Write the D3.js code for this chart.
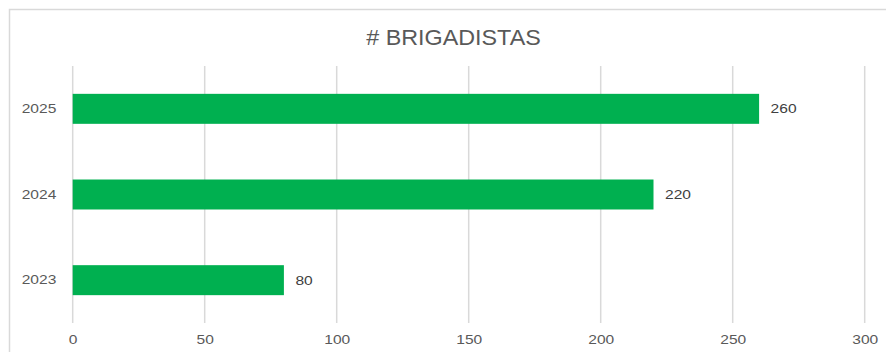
<!DOCTYPE html>
<html>
<head>
<meta charset="utf-8">
<script src="https://cdn.jsdelivr.net/npm/d3@7"></script>
<style>
  html, body { margin: 0; padding: 0; background: #fff; }
  svg { display: block; font-family: "Liberation Sans", Arial, sans-serif; }
</style>
</head>
<body>
<svg id="chart" width="886" height="352"></svg>
<script>
// Brigadistas per year
const years = ["2025", "2024", "2023"];
const brigadistas = [260, 220, 80];
const xTicks = [0, 50, 100, 150, 200, 250, 300];
const title = "# BRIGADISTAS";

const svg = d3.select("#chart");
const W = 886, H = 352;
const margin = { left: 72.7, right: 21.3, top: 66, bottom: 29 };

// widen glyphs slightly, keeping the anchor point
function widen(sel, factor) {
  sel.each(function () {
    const len = this.getComputedTextLength();
    d3.select(this)
      .attr("textLength", len * factor)
      .attr("lengthAdjust", "spacingAndGlyphs");
  });
}

// outer frame of the chart area
svg.append("rect")
  .attr("x", 9.5).attr("y", 9.5)
  .attr("width", 900).attr("height", 400)
  .attr("fill", "#fff")
  .attr("stroke", "#d9d9d9").attr("stroke-width", 1.5);

const x = d3.scaleLinear().domain([0, 300]).range([margin.left, W - margin.right]);
const y = d3.scaleBand().domain(years).range([margin.top, H - margin.bottom]).paddingInner(0.65).paddingOuter(0.325);

// vertical gridlines
svg.append("g")
  .selectAll("line")
  .data(xTicks)
  .join("line")
  .attr("x1", d => x(d)).attr("x2", d => x(d))
  .attr("y1", margin.top).attr("y2", H - margin.bottom)
  .attr("stroke", "#d9d9d9").attr("stroke-width", 1.5);

// x tick labels
const xAxis = d3.axisBottom(x).tickValues(xTicks).tickSize(0).tickPadding(0);
const gx = svg.append("g")
  .attr("transform", `translate(0,${H - 8})`)
  .call(xAxis);
gx.select(".domain").remove();
gx.selectAll("text")
  .attr("dy", 0)
  .attr("font-size", 13.3)
  .attr("font-family", "Liberation Sans, Arial, sans-serif")
  .attr("fill", "#595959")
  .call(widen, 1.17);

// y category labels
const yAxis = d3.axisLeft(y).tickSize(0).tickPadding(16.4);
const gy = svg.append("g")
  .attr("transform", `translate(${margin.left},0)`)
  .call(yAxis);
gy.select(".domain").remove();
gy.selectAll("text")
  .attr("font-size", 13.3)
  .attr("font-family", "Liberation Sans, Arial, sans-serif")
  .attr("fill", "#595959")
  .call(widen, 1.17);

// bars
svg.append("g")
  .selectAll("rect")
  .data(years)
  .join("rect")
  .attr("x", x(0))
  .attr("y", (d) => y(d))
  .attr("width", (d, i) => x(brigadistas[i]) - x(0))
  .attr("height", y.bandwidth())
  .attr("fill", "#00b050");

// value labels
svg.append("g")
  .selectAll("text")
  .data(years)
  .join("text")
  .attr("x", (d, i) => x(brigadistas[i]) + 11.5)
  .attr("y", d => y(d) + y.bandwidth() / 2)
  .attr("dy", "0.35em")
  .attr("font-size", 13.3)
  .attr("fill", "#404040")
  .text((d, i) => brigadistas[i])
  .call(widen, 1.17);

// title
svg.append("text")
  .attr("x", 453.5)
  .attr("y", 45)
  .attr("text-anchor", "middle")
  .attr("font-size", 22)
  .attr("fill", "#595959")
  .text(title)
  .call(widen, 1.06);
</script>
</body>
</html>
